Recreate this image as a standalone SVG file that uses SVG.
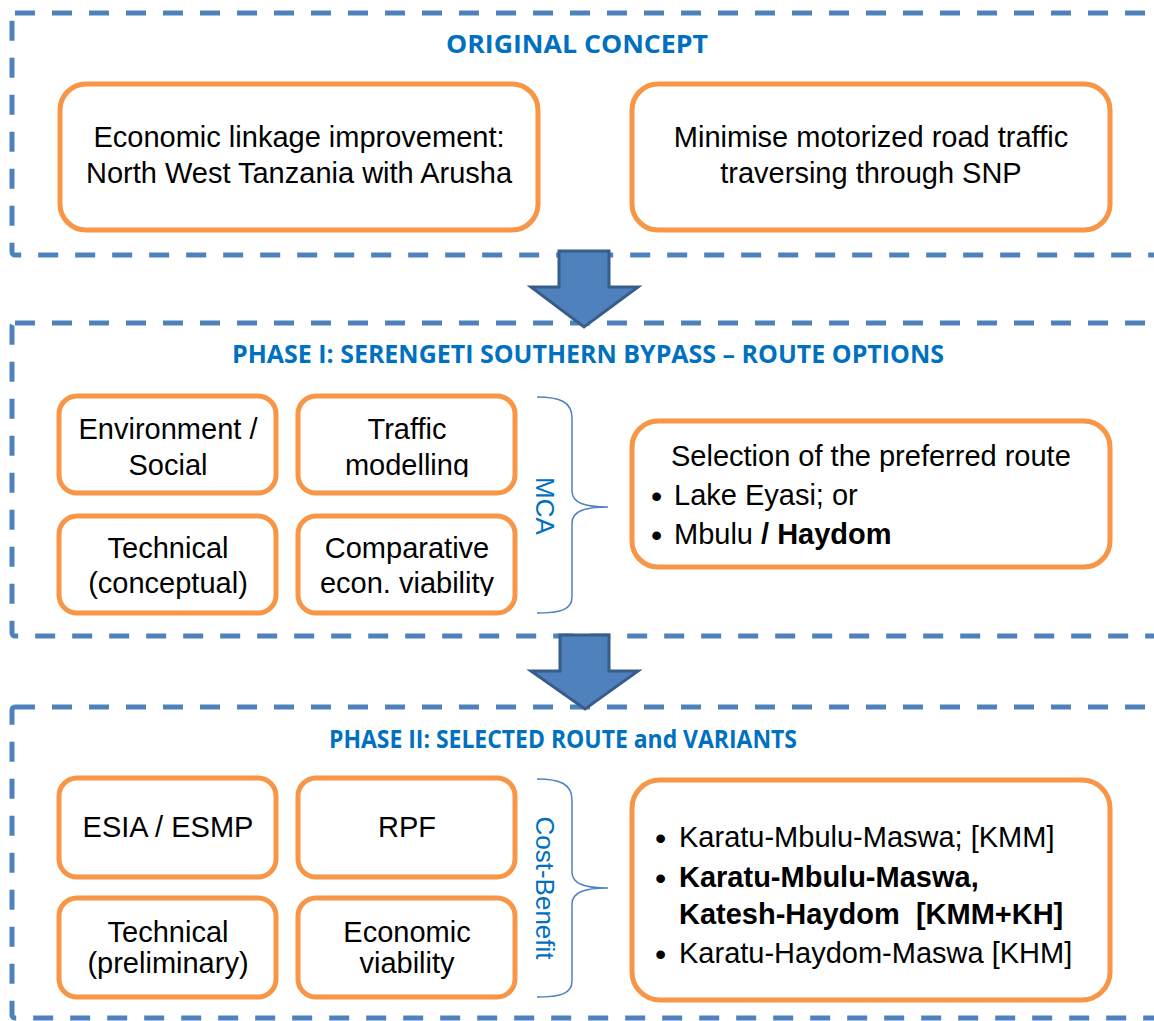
<svg xmlns="http://www.w3.org/2000/svg" width="1154" height="1021" viewBox="0 0 1154 1021">
<style>
.frame{fill:none;stroke:#4F81BD;stroke-width:5;stroke-dasharray:20 17}
.box{fill:#fff;stroke:#F79646;stroke-width:5}
.t{font-family:"Liberation Sans",Arial,sans-serif;font-size:29px;fill:#000}
.c{text-anchor:middle}
.b{font-weight:bold}
.bul{font-family:"Liberation Sans",Arial,sans-serif;font-size:32px;fill:#000}
.title{font-family:"Open Sans","Liberation Sans",sans-serif;font-weight:bold;font-size:25px;fill:#0070C0;text-anchor:middle}
.vert{font-family:"Liberation Sans",Arial,sans-serif;font-size:26px;fill:#0070C0;text-anchor:middle}
.arrow{fill:#4F81BD;stroke:#385D8A;stroke-width:3;stroke-linejoin:miter}
.brace{fill:none;stroke:#4F81BD;stroke-width:1.5}
</style>
<defs>
<clipPath id="clipTraffic"><rect x="0" y="0" width="1154" height="477"/></clipPath>
<clipPath id="clipComp"><rect x="0" y="0" width="1154" height="596"/></clipPath>
<clipPath id="clipEcon"><rect x="0" y="0" width="1154" height="980"/></clipPath>
</defs>
<rect width="1154" height="1021" fill="#fff"/>

<g id="frames">
<rect class="frame" x="12" y="13" width="1200" height="242" rx="3"/>
<rect class="frame" x="12" y="323" width="1200" height="313" rx="3"/>
<rect class="frame" x="12" y="707" width="1200" height="311" rx="3"/>
<text class="title" x="577" y="53" textLength="262" lengthAdjust="spacingAndGlyphs">ORIGINAL CONCEPT</text>
<text class="title" x="588" y="363" textLength="712" lengthAdjust="spacingAndGlyphs">PHASE I: SERENGETI SOUTHERN BYPASS – ROUTE OPTIONS</text>
<text class="title" x="563" y="748" textLength="468" lengthAdjust="spacingAndGlyphs">PHASE II: SELECTED ROUTE and VARIANTS</text>
</g>

<g id="connectors">
<polygon class="arrow" points="559,251 609,251 609,287 638,287 584,327 531,287 559,287"/>
<polygon class="arrow" points="560,635 609,635 609,671 638,671 585,709 531,671 560,671"/>
<path class="brace" d="M537,397 C560,397 572,402 572,418 V491 C572,503 585,507 608,507 C585,507 572,511 572,523 V597 C572,610 560,613 537,613"/>
<path class="brace" d="M537,779 C560,779 572,784 572,800 V872 C572,884 585,888 608,888 C585,888 572,892 572,904 V981 C572,994 560,997 537,997"/>
<text class="vert" transform="translate(545,506) rotate(90)" dy="9">MCA</text>
<text class="vert" transform="translate(545,888) rotate(90)" dy="9">Cost-Benefit</text>
</g>

<g id="node-economic-linkage">
<rect class="box" x="60" y="84" width="478" height="146" rx="26"/>
<text class="t c" x="299" y="147">Economic linkage improvement:</text>
<text class="t c" x="299" y="183">North West Tanzania with Arusha</text>
</g>

<g id="node-minimise-traffic">
<rect class="box" x="632" y="84" width="478" height="146" rx="26"/>
<text class="t c" x="871" y="147">Minimise motorized road traffic</text>
<text class="t c" x="871" y="183">traversing through SNP</text>
</g>

<g id="node-env-social">
<rect class="box" x="59" y="396" width="217" height="97" rx="18"/>
<text class="t c" x="168" y="439">Environment /</text>
<text class="t c" x="168" y="475">Social</text>
</g>

<g id="node-traffic">
<rect class="box" x="298" y="396" width="217" height="97" rx="18"/>
<g clip-path="url(#clipTraffic)">
<text class="t c" x="407" y="439">Traffic</text>
<text class="t c" x="407" y="475">modelling</text>
</g>
</g>

<g id="node-technical-conceptual">
<rect class="box" x="59" y="516" width="217" height="97" rx="18"/>
<text class="t c" x="168" y="558">Technical</text>
<text class="t c" x="168" y="593">(conceptual)</text>
</g>

<g id="node-comparative">
<rect class="box" x="298" y="516" width="217" height="97" rx="18"/>
<g clip-path="url(#clipComp)">
<text class="t c" x="407" y="558">Comparative</text>
<text class="t c" x="407" y="593">econ. viability</text>
</g>
</g>

<g id="node-selection">
<rect class="box" x="632" y="421" width="478" height="146" rx="26"/>
<text class="t" x="671" y="466">Selection of the preferred route</text>
<text class="bul" x="651" y="507">•</text>
<text class="t" x="674" y="505">Lake Eyasi; or</text>
<text class="bul" x="651" y="546">•</text>
<text class="t" x="674" y="544">Mbulu <tspan class="b">/ Haydom</tspan></text>
</g>

<g id="node-esia">
<rect class="box" x="59" y="778" width="217" height="99" rx="18"/>
<text class="t c" x="168" y="837">ESIA / ESMP</text>
</g>

<g id="node-rpf">
<rect class="box" x="298" y="778" width="217" height="99" rx="18"/>
<text class="t c" x="407" y="837">RPF</text>
</g>

<g id="node-technical-preliminary">
<rect class="box" x="59" y="898" width="217" height="99" rx="18"/>
<text class="t c" x="168" y="942">Technical</text>
<text class="t c" x="168" y="973">(preliminary)</text>
</g>

<g id="node-economic-viability">
<rect class="box" x="298" y="898" width="217" height="99" rx="18"/>
<g clip-path="url(#clipEcon)">
<text class="t c" x="407" y="942">Economic</text>
<text class="t c" x="407" y="973">viability</text>
</g>
</g>

<g id="node-variants">
<rect class="box" x="632" y="780" width="478" height="220" rx="28"/>
<text class="bul" x="655" y="849">•</text>
<text class="t" x="679" y="847">Karatu-Mbulu-Maswa; [KMM]</text>
<text class="bul" x="655" y="889">•</text>
<text class="t b" x="679" y="887">Karatu-Mbulu-Maswa,</text>
<text class="t b" x="679" y="924" xml:space="preserve">Katesh-Haydom  [KMM+KH]</text>
<text class="bul" x="655" y="965">•</text>
<text class="t" x="679" y="963">Karatu-Haydom-Maswa [KHM]</text>
</g>
</svg>
